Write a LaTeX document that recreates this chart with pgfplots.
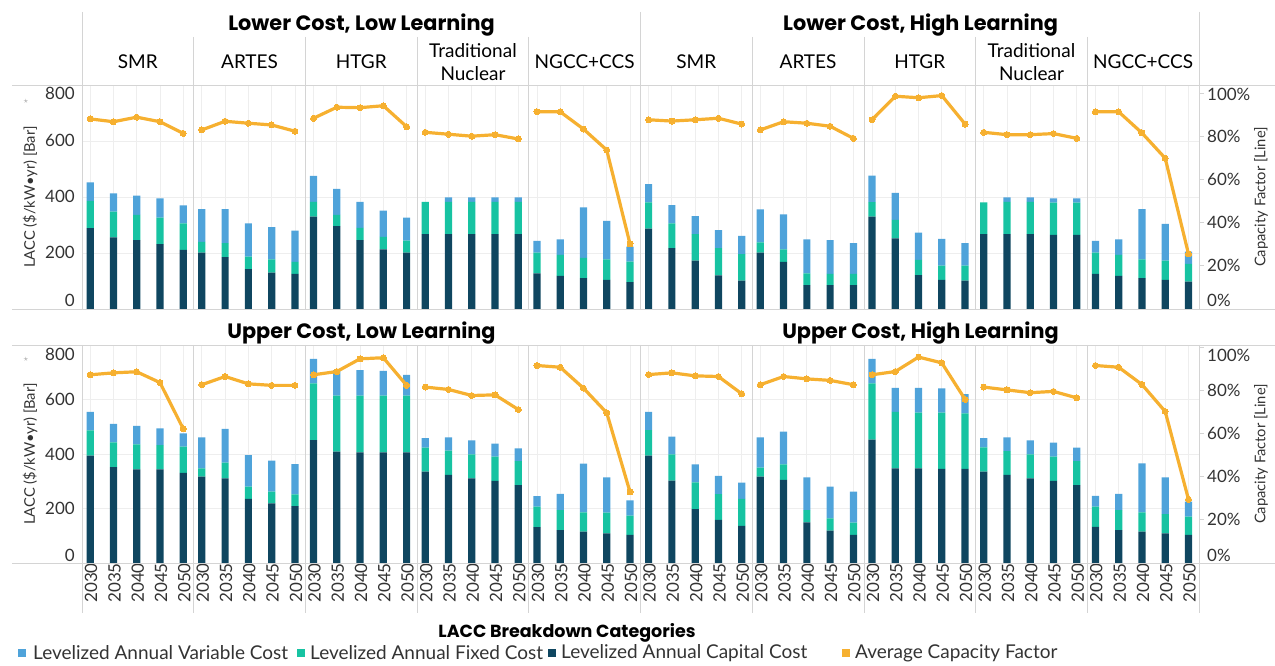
\documentclass[border=0pt]{standalone}
\usepackage{fontspec}
\setmainfont{Lato}
\newfontfamily\titlefont{Poppins}
\usepackage{pgfplots}
\usepackage{pgfplotstable}
\pgfplotsset{compat=1.18}

\definecolor{cvar}{HTML}{4FA3DA}
\definecolor{cfix}{HTML}{17C3A2}
\definecolor{ccap}{HTML}{0F4660}
\definecolor{ccf}{HTML}{F6B030}
\definecolor{gridc}{HTML}{EEEEEE}
\definecolor{linec}{HTML}{D4D4D4}
\definecolor{txt}{HTML}{333333}

\pgfplotstableread{
x year cap fix var
0 2030 289 97 66
1 2035 256 92 65
2 2040 246 90 69
3 2045 232 94 69
4 2050 211 95 64
4.8 2030 201 39 117
5.8 2035 185 50 122
6.8 2040 142 45 119
7.8 2045 130 47 115
8.8 2050 125 43 112
9.6 2030 330 53 92
10.6 2035 296 40 93
11.6 2040 246 44 93
12.6 2045 213 45 93
13.6 2050 201 43 82
14.4 2030 267 116 0
15.4 2035 267 116 16
16.4 2040 267 116 16
17.4 2045 267 116 16
18.4 2050 267 116 16
19.2 2030 127 74 42
20.2 2035 118 75 56
21.2 2040 110 73 180
22.2 2045 104 73 138
23.2 2050 96 73 54
24 2030 287 94 65
25 2035 217 89 65
26 2040 173 94 65
27 2045 120 97 65
28 2050 101 95 65
28.8 2030 201 37 118
29.8 2035 168 45 125
30.8 2040 85 42 122
31.8 2045 85 40 121
32.8 2050 85 40 110
33.6 2030 330 52 94
34.6 2035 252 66 97
35.6 2040 121 54 98
36.6 2045 104 51 95
37.6 2050 101 54 80
38.4 2030 267 114 0
39.4 2035 267 116 16
40.4 2040 267 116 16
41.4 2045 265 115 15
42.4 2050 265 115 15
43.2 2030 125 76 42
44.2 2035 118 75 56
45.2 2040 110 67 180
46.2 2045 104 69 131
47.2 2050 98 63 44
}\topbars

\pgfplotstableread{
x year cap fix var
0 2030 394 93 68
1 2035 352 91 68
2 2040 344 91 68
3 2045 344 89 61
4 2050 331 96 49
4.8 2030 317 30 114
5.8 2035 311 57 124
6.8 2040 235 45 116
7.8 2045 219 43 114
8.8 2050 209 43 111
9.6 2030 451 208 90
10.6 2035 409 205 94
11.6 2040 406 208 94
12.6 2045 406 208 91
13.6 2050 406 208 76
14.4 2030 335 88 35
15.4 2035 323 89 49
16.4 2040 311 88 51
17.4 2045 301 89 48
18.4 2050 286 88 47
19.2 2030 132 75 38
20.2 2035 121 73 60
21.2 2040 115 71 179
22.2 2045 109 76 129
23.2 2050 103 71 56
24 2030 394 94 67
25 2035 302 97 65
26 2040 198 98 66
27 2045 158 95 67
28 2050 136 99 60
28.8 2030 317 33 111
29.8 2035 305 57 120
30.8 2040 149 45 120
31.8 2045 119 45 116
32.8 2050 103 45 114
33.6 2030 453 206 90
34.6 2035 347 208 88
35.6 2040 347 205 91
36.6 2045 345 207 89
37.6 2050 345 204 71
38.4 2030 335 89 34
39.4 2035 323 88 50
40.4 2040 311 88 51
41.4 2045 301 89 52
42.4 2050 286 88 49
43.2 2030 133 74 39
44.2 2035 121 73 60
45.2 2040 115 71 180
46.2 2045 109 70 135
47.2 2050 103 67 55
}\botbars

\pgfplotstableread{
x cf
0 88
1 86.7
2 88.8
3 86.7
4 81.3
4.4 nan
4.8 82.9
5.8 86.9
6.8 86
7.8 85.2
8.8 82.3
9.2 nan
9.6 88.3
10.6 93.4
11.6 93.2
12.6 94.1
13.6 84.4
14 nan
14.4 81.8
15.4 80.9
16.4 80
17.4 80.7
18.4 78.7
18.8 nan
19.2 91.3
20.2 91.3
21.2 83.3
22.2 73.6
23.2 30.1
23.6 nan
24 87.6
25 87
26 87.6
27 88.3
28 85.6
28.4 nan
28.8 82.9
29.8 86.7
30.8 86
31.8 84.6
32.8 79
33.2 nan
33.6 87.6
34.6 98.5
35.6 97.8
36.6 98.8
37.6 85.6
38 nan
38.4 81.8
39.4 80.7
40.4 80.7
41.4 81.2
42.4 79
42.8 nan
43.2 91.3
44.2 91.3
45.2 81.5
46.2 69.8
47.2 25.5
}\topcf

\pgfplotstableread{
x cf
0 87.2
1 88.1
2 88.6
3 83.6
4 62.2
4.4 nan
4.8 82.6
5.8 86.4
6.8 83
7.8 82.3
8.8 82.3
9.2 nan
9.6 87.2
10.6 88.7
11.6 94.6
12.6 95.1
13.6 82.3
14 nan
14.4 81.5
15.4 80.4
16.4 77.6
17.4 77.9
18.4 71.1
18.8 nan
19.2 91.5
20.2 90.7
21.2 81
22.2 69.6
23.2 32.9
23.6 nan
24 87.3
25 88.1
26 86.7
27 86.4
28 78.4
28.4 nan
28.8 82.6
29.8 86.4
30.8 85.3
31.8 84.6
32.8 82.6
33.2 nan
33.6 87.2
34.6 88.7
35.6 95.4
36.6 92.7
37.6 75.8
38 nan
38.4 81.5
39.4 80.2
40.4 78.9
41.4 79.5
42.4 76.5
42.8 nan
43.2 91.5
44.2 90.7
45.2 82.7
46.2 70.2
47.2 29.5
}\botcf

\newcommand\tl[2]{\smash{\raisebox{#1}{#2}}}

\pgfplotsset{
  panel/.style={scale only axis, width=1117pt, xmin=-0.35, xmax=47.65, ymin=0,
    anchor=south west, axis line style={draw=none},
    /pgf/number format/assume math mode=true,
    tick label style={font=\fontsize{17}{20}\selectfont, text=txt}},
  barsax/.style={ybar stacked, ymax=800, ytick={0,200,400,600,800},
    ymajorgrids, xmajorgrids, grid style={gridc, line width=0.8pt},
    xtick=data, ytick style={draw=none}, ytick pos=left,
    yticklabels={{\tl{2pt}{0}},{\tl{-6pt}{200}},{\tl{-6pt}{400}},{\tl{-6pt}{600}},{\tl{-15pt}{800}}},
    yticklabel style={inner sep=0pt, xshift=-7pt}},
  cfax/.style={ytick={0,20,40,60,80,100},
    ytick pos=right, yticklabel pos=right, xtick=\empty,
    ytick style={draw=linec, line width=0.8pt}, tick align=outside, major tick length=5pt,
    yticklabel style={inner sep=0pt, xshift=3pt}},
  barcap/.style={fill=ccap, draw=none, bar width=0.31},
  barfix/.style={fill=cfix, draw=none, bar width=0.31},
  barvar/.style={fill=cvar, draw=none, bar width=0.31},
  cfline/.style={ccf, line width=3.2pt, mark=*, mark size=3pt, mark options={fill=ccf, draw=ccf, line width=0pt}, unbounded coords=jump},
}

\newcommand\tech[2]{\node[font=\fontsize{19}{23}\selectfont, align=center, text=black] at (#1,603) {#2};}

\begin{document}
\begin{tikzpicture}[x=1pt,y=1pt]
\path[use as bounding box] (0,0) rectangle (1275,665);

% ---------- top row ----------
\begin{axis}[panel, barsax, at={(82pt,356pt)}, height=224pt, xticklabels={}, xtick style={draw=none}]
\addplot[barcap] table[x=x,y=cap]{\topbars};
\addplot[barfix] table[x=x,y=fix]{\topbars};
\addplot[barvar] table[x=x,y=var]{\topbars};
\end{axis}
\begin{axis}[panel, cfax, at={(82pt,356pt)}, height=224pt, ymax=103.7,
  yticklabels={{\tl{2pt}{0\%}},{\tl{-6pt}{20\%}},{\tl{-6pt}{40\%}},{\tl{-6pt}{60\%}},{\tl{-6pt}{80\%}},{\tl{-8pt}{100\%}}}]
\addplot[cfline] table[x=x,y=cf]{\topcf};
\end{axis}

% ---------- bottom row ----------
\begin{axis}[panel, barsax, at={(82pt,102pt)}, height=218pt,
  xticklabels from table={\botbars}{year},
  xtick pos=left, xtick style={draw=linec, line width=0.8pt},
  x tick label style={rotate=90, anchor=east, inner sep=0pt, xshift=0pt, yshift=-1pt}]
\addplot[barcap] table[x=x,y=cap]{\botbars};
\addplot[barfix] table[x=x,y=fix]{\botbars};
\addplot[barvar] table[x=x,y=var]{\botbars};
\end{axis}
\begin{axis}[panel, cfax, at={(82pt,102pt)}, height=218pt, ymax=101,
  yticklabels={{\tl{2pt}{0\%}},{\tl{-6pt}{20\%}},{\tl{-6pt}{40\%}},{\tl{-6pt}{60\%}},{\tl{-6pt}{80\%}},{\tl{-14pt}{100\%}}}]
\addplot[cfline] table[x=x,y=cf]{\botcf};
\end{axis}

% ---------- frame lines ----------
\begin{scope}[draw=linec, line width=0.8pt]
\draw (12,580) -- (1275,580);
\draw (12,356) -- (1275,356);
\draw (12,320) -- (1275,320);
\draw (12,102) -- (1275,102);
\foreach \xx in {82,640.5,1199} {\draw (\xx,653) -- (\xx,356); \draw (\xx,320) -- (\xx,52);}
\foreach \xx in {193.7,305.4,417.1,528.8,752.2,863.9,975.6,1087.3} {\draw (\xx,628) -- (\xx,356); \draw (\xx,320) -- (\xx,52);}
\end{scope}

% ---------- headers ----------
\begin{scope}[every node/.style={font=\titlefont\bfseries\fontsize{20.8}{24}\selectfont, text=black}]
\node at (361.5,640) {Lower Cost, Low Learning};
\node at (920.5,640) {Lower Cost, High Learning};
\node at (361.5,332) {Upper Cost, Low Learning};
\node at (920.5,332) {Upper Cost, High Learning};
\end{scope}
\tech{137.85}{SMR}
\tech{249.55}{ARTES}
\tech{361.25}{HTGR}
\tech{472.95}{Traditional\\Nuclear}
\tech{584.65}{NGCC+CCS}
\tech{696.35}{SMR}
\tech{808.05}{ARTES}
\tech{919.75}{HTGR}
\tech{1031.45}{Traditional\\Nuclear}
\tech{1143.15}{NGCC+CCS}

% ---------- axis titles ----------
\begin{scope}[every node/.style={font=\fontsize{14.7}{18}\selectfont, text=txt, rotate=90}]
\node at (30,468) {LACC (\$/kW•yr) [Bar]};
\node at (30,211) {LACC (\$/kW•yr) [Bar]};
\node at (1261,468) {Capacity Factor [Line]};
\node at (1261,211) {Capacity Factor [Line]};
\end{scope}
\node[font=\fontsize{9}{10}\selectfont, text=gray!70] at (26,564) {$\star$};
\node[font=\fontsize{9}{10}\selectfont, text=gray!70] at (26,306) {$\star$};

% ---------- legend ----------
\node[font=\titlefont\bfseries\fontsize{17.5}{20}\selectfont] at (567,32) {LACC Breakdown Categories};
\begin{scope}[every node/.style={font=\fontsize{19}{22}\selectfont, text=txt, anchor=west, inner sep=0pt}]
\fill[cvar] (18,8) rectangle (26,16); \node at (33,12) {Levelized Annual Variable Cost};
\fill[cfix] (297,8) rectangle (305,16); \node at (310,12) {Levelized Annual Fixed Cost};
\fill[ccap] (548,8) rectangle (556,16); \node at (561,12) {Levelized Annual Capital Cost};
\fill[ccf] (842,8) rectangle (850,16); \node at (855,12) {Average Capacity Factor};
\end{scope}
\end{tikzpicture}
\end{document}
